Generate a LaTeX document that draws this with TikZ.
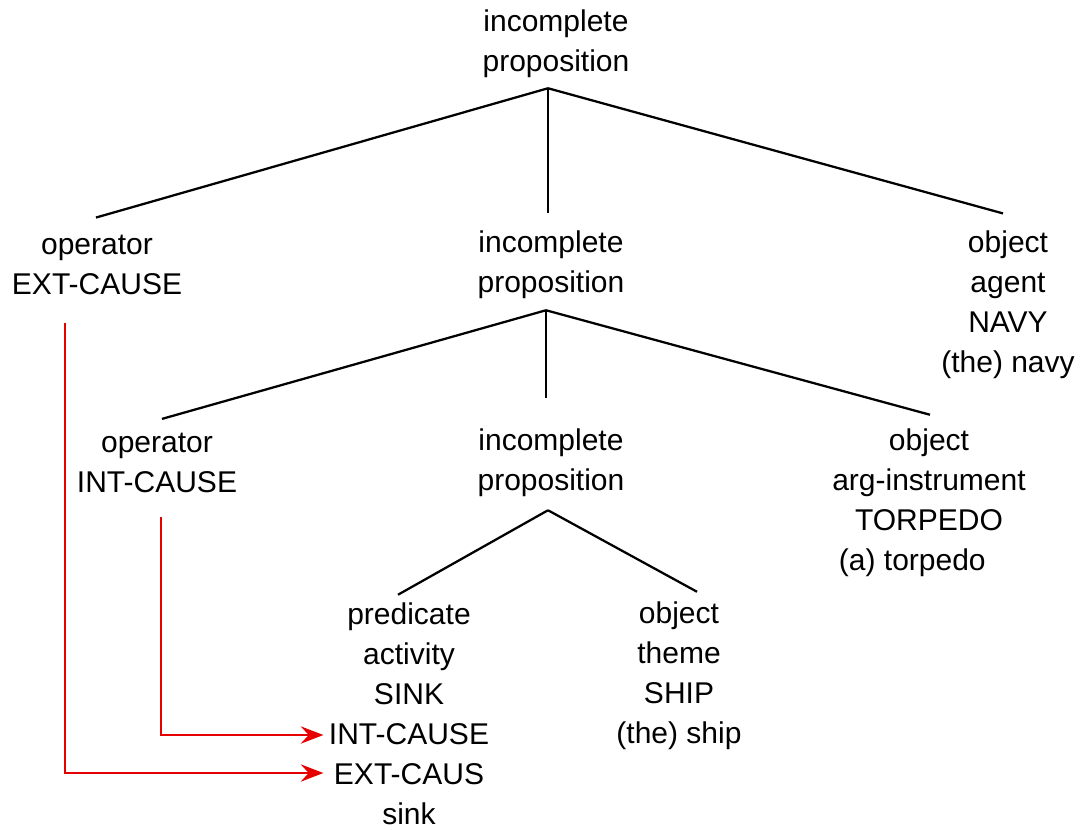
\documentclass[tikz,border=0pt]{standalone}
\usepackage{fontspec}
\setmainfont{Liberation Sans}
\usetikzlibrary{arrows.meta}
\begin{document}
\begin{tikzpicture}[x=0.75pt,y=-0.75pt,
  lbl/.style={align=center, inner sep=0pt, font=\fontsize{22.5}{30}\selectfont},
  edge/.style={line width=1.7pt},
  link/.style={draw={rgb,255:red,230;green,0;blue,0}, line width=1.7pt,
    -{Stealth[length=17pt,width=13pt,inset=6pt]}}]
\useasboundingbox (0,0) rectangle (1082,829);
% tree nodes
\node[lbl] (p0)   at (556,44)  {incomplete\\proposition};
\node[lbl] (op1)  at (97,265)  {operator\\EXT-CAUSE};
\node[lbl] (p1)   at (551,265) {incomplete\\proposition};
\node[lbl] (ag)   at (1008,305) {object\\agent\\NAVY\\(the) navy};
\node[lbl] (op2)  at (157,463) {operator\\INT-CAUSE};
\node[lbl] (p2)   at (551,463) {incomplete\\proposition};
\node[lbl] (ins)  at (929,503) {object\\arg-instrument\\TORPEDO\\(a) torpedo\hspace*{25pt}};
\node[lbl] (pred) at (409,714) {predicate\\activity\\SINK\\INT-CAUSE\\EXT-CAUS\\sink};
\node[lbl] (th)   at (679,676) {object\\theme\\SHIP\\(the) ship};
% branch points below each mother node
\coordinate (j0) at ([xshift=-6pt,yshift=-7.5pt]p0.south);
\coordinate (j1) at ([xshift=-3.75pt,yshift=-8.25pt]p1.south);
\coordinate (j2) at ([xshift=-2.25pt,yshift=-9.75pt]p2.south);
% branches
\draw[edge] (j0) -- ([xshift=-0.75pt,yshift=13pt]op1.north);
\draw[edge] (j0) -- ([xshift=-2.25pt,yshift=13pt]p1.north);
\draw[edge] (j0) -- ([xshift=-3.75pt,yshift=13pt]ag.north);
\draw[edge] (j1) -- ([xshift=3.75pt,yshift=10.5pt]op2.north);
\draw[edge] (j1) -- ([xshift=-3.75pt,yshift=23pt]p2.north);
\draw[edge] (j1) -- ([xshift=0.75pt,yshift=10.5pt]ins.north);
\draw[edge] (j2) -- ([xshift=-8.25pt,yshift=6pt]pred.north);
\draw[edge] (j2) -- ([xshift=13.5pt,yshift=7.5pt]th.north);
% feature links
\coordinate (c1) at (65,323);
\coordinate (c2) at (161,517);
\draw[link] (c1) |- ([xshift=-4]pred.west |- 0,773);
\draw[link] (c2) |- ([xshift=-4]pred.west |- 0,735);
\end{tikzpicture}
\end{document}
